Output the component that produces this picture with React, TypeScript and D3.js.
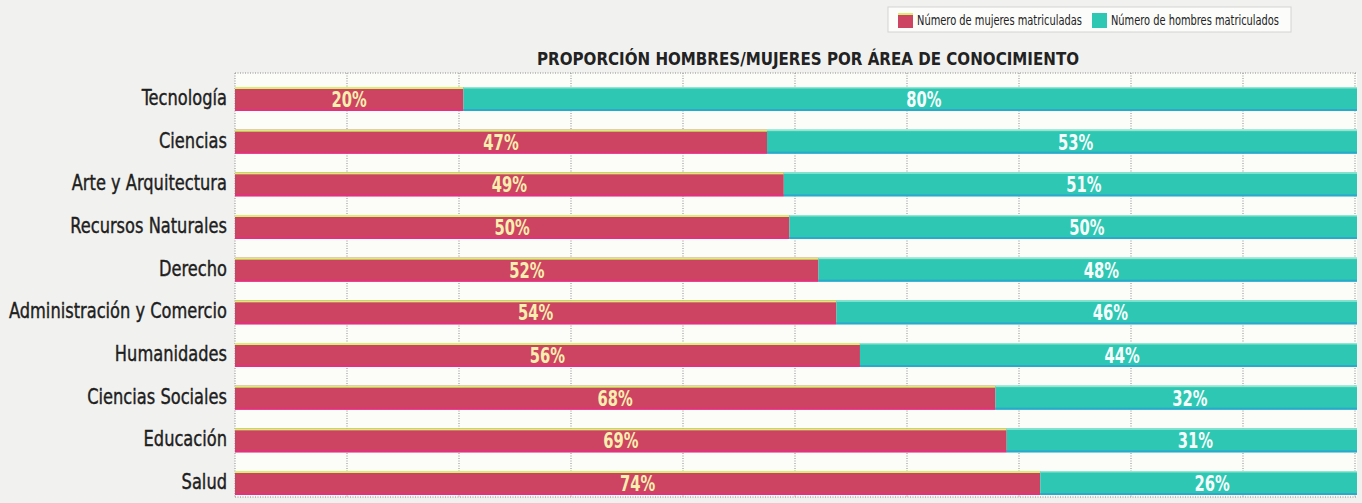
import React from "react";
import * as d3 from "d3";

const categorias = [
  "Tecnología",
  "Ciencias",
  "Arte y Arquitectura",
  "Recursos Naturales",
  "Derecho",
  "Administración y Comercio",
  "Humanidades",
  "Ciencias Sociales",
  "Educación",
  "Salud",
];
// bar lengths as drawn (share of women, %)
const mujeres = [20.4, 47.5, 49.0, 49.5, 52.1, 53.7, 55.8, 67.9, 68.9, 71.9];
// printed labels
const etiquetasMujeres = ["20%", "47%", "49%", "50%", "52%", "54%", "56%", "68%", "69%", "74%"];
const etiquetasHombres = ["80%", "53%", "51%", "50%", "48%", "46%", "44%", "32%", "31%", "26%"];
const ticks = [0, 10, 20, 30, 40, 50, 60, 70, 80, 90, 100];

const titulo = "PROPORCIÓN HOMBRES/MUJERES POR ÁREA DE CONOCIMIENTO";
const leyenda = ["Número de mujeres matriculadas", "Número de hombres matriculados"];

const W = 1362;
const H = 503;
const FONT = "'DejaVu Sans Condensed', 'Liberation Sans Narrow', sans-serif";
const PINK = "#cc4461";
const PINK_EDGE = "#e4307f";
const PINK_TOP = "#d6ee72";
const TEAL = "#2ec7b3";
const TEAL_EDGE = "#2aa9cf";
const TEAL_TOP = "#8de8cf";

export default function App() {
  const x = d3.scaleLinear().domain([0, 100]).range([235, 1355]);
  const y = d3.scalePoint<string>().domain(categorias).range([99, 483]);
  const bh = 24;
  const plotTop = 73;
  const plotBottom = 497;
  const plotRight = 1357;

  return (
    <svg
      width={W}
      height={H}
      viewBox={`0 0 ${W} ${H}`}
      style={{ position: "absolute", left: 0, top: 0, background: "#f1f1ef" }}
      fontFamily={FONT}
    >
      <rect x={0} y={0} width={W} height={H} fill="#f1f1ef" />
      {/* legend */}
      <g>
        <rect x={888} y={7} width={403} height={25} fill="#fcfcfa" stroke="#d4d4d2" strokeWidth={1} />
        <rect x={898} y={13} width={15} height={15} fill={PINK} />
        <rect x={898} y={13} width={15} height={2} fill={PINK_TOP} />
        <text x={917} y={25} fontSize={14} fill="#222" textLength={165} lengthAdjust="spacingAndGlyphs">
          {leyenda[0]}
        </text>
        <rect x={1092} y={13} width={15} height={15} fill={TEAL} />
        <text x={1111} y={25} fontSize={14} fill="#222" textLength={168} lengthAdjust="spacingAndGlyphs">
          {leyenda[1]}
        </text>
      </g>
      {/* title */}
      <text
        x={808}
        y={65}
        textAnchor="middle"
        fontSize={18}
        fontWeight="bold"
        fill="#222"
        textLength={542}
        lengthAdjust="spacingAndGlyphs"
      >
        {titulo}
      </text>
      {/* plot background */}
      <rect x={x(0)} y={plotTop} width={plotRight - x(0)} height={plotBottom - plotTop} fill="#fcfcf9" />
      {/* grid */}
      {ticks.map((t) => (
        <line
          key={t}
          x1={x(t)}
          x2={x(t)}
          y1={plotTop}
          y2={plotBottom}
          stroke="#8a8a8a"
          strokeWidth={1}
          strokeDasharray="1,1.5"
        />
      ))}
      <line x1={x(0)} x2={plotRight} y1={plotTop} y2={plotTop} stroke="#8a8a8a" strokeDasharray="1,1.5" />
      <line x1={x(0)} x2={plotRight} y1={plotBottom} y2={plotBottom} stroke="#8a8a8a" strokeDasharray="1,1.5" />
      {/* bars */}
      {categorias.map((c, i) => {
        const yc = y(c)!;
        const y0 = yc - bh / 2;
        const xm = x(mujeres[i]);
        const x0 = x(0);
        return (
          <g key={c}>
            <rect x={x0} y={y0} width={xm - x0} height={bh} fill={PINK} />
            <rect x={x0} y={y0} width={xm - x0} height={2} fill={PINK_TOP} />
            <rect x={x0} y={y0 + bh - 2} width={xm - x0} height={2} fill={PINK_EDGE} />
            <rect x={xm} y={y0} width={plotRight - xm} height={bh} fill={TEAL} />
            <rect x={xm} y={y0} width={plotRight - xm} height={1.5} fill={TEAL_TOP} />
            <rect x={xm} y={y0 + bh - 2} width={plotRight - xm} height={2} fill={TEAL_EDGE} />
            <g transform={`translate(${(x0 + xm) / 2},${yc + 8}) scale(0.78,1)`}>
              <text textAnchor="middle" fontSize={21} fontWeight="bold" fill="#fbefb0">
                {etiquetasMujeres[i]}
              </text>
            </g>
            <g transform={`translate(${(xm + x(102.6)) / 2},${yc + 8}) scale(0.78,1)`}>
              <text textAnchor="middle" fontSize={21} fontWeight="bold" fill="#f6fffb">
                {etiquetasHombres[i]}
              </text>
            </g>
            <g transform={`translate(227,${yc + 6}) scale(0.86,1)`}>
              <text textAnchor="end" fontSize={21} fill="#1e1e1e" stroke="#1e1e1e" strokeWidth={0.4}>
                {c}
              </text>
            </g>
          </g>
        );
      })}
    </svg>
  );
}
